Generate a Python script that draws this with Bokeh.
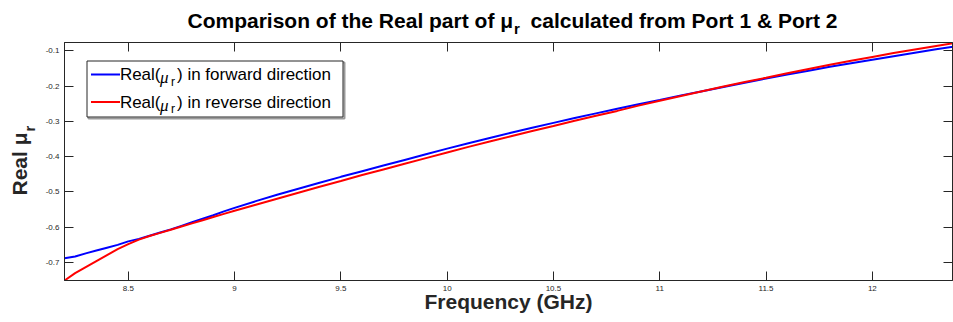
import math
from bokeh.plotting import figure
from bokeh.models import Range1d, LinearAxis, FixedTicker, Label, BoxAnnotation, PolyAnnotation
from bokeh.embed import file_html
from bokeh.resources import INLINE

# ---------------- data ----------------
freq = [8.20, 8.25, 8.30, 8.35, 8.40, 8.45, 8.50, 8.55, 8.60, 8.65, 8.70, 8.75,
        8.80, 8.85, 8.90, 8.95, 9.00, 9.10, 9.20, 9.30, 9.40, 9.50, 9.60, 9.70,
        9.80, 9.90, 10.00, 10.10, 10.20, 10.30, 10.40, 10.50, 10.60, 10.70, 10.80,
        10.90, 11.00, 11.10, 11.20, 11.30, 11.40, 11.50, 11.60, 11.70, 11.80, 11.90,
        12.00, 12.10, 12.20, 12.30, 12.40]

real_mu_forward = [-0.688, -0.683, -0.674, -0.666, -0.658, -0.650, -0.640, -0.633,
                   -0.624, -0.615, -0.606, -0.596, -0.586, -0.576, -0.566, -0.555,
                   -0.545, -0.526, -0.508, -0.491, -0.474, -0.457, -0.441, -0.425,
                   -0.409, -0.393, -0.377, -0.362, -0.347, -0.332, -0.318, -0.304,
                   -0.290, -0.277, -0.264, -0.251, -0.239, -0.226, -0.214, -0.202,
                   -0.190, -0.178, -0.167, -0.156, -0.145, -0.135, -0.125, -0.115,
                   -0.105, -0.095, -0.086]

real_mu_reverse = [-0.751, -0.730, -0.713, -0.696, -0.679, -0.662, -0.648, -0.635,
                   -0.625, -0.616, -0.607, -0.598, -0.589, -0.580, -0.571, -0.562,
                   -0.553, -0.536, -0.519, -0.502, -0.485, -0.469, -0.452, -0.436,
                   -0.420, -0.404, -0.388, -0.372, -0.357, -0.342, -0.327, -0.313,
                   -0.298, -0.284, -0.270, -0.255, -0.241, -0.228, -0.214, -0.201,
                   -0.188, -0.176, -0.163, -0.151, -0.139, -0.128, -0.117, -0.106,
                   -0.096, -0.086, -0.076]

x_ticks = [8.5, 9.0, 9.5, 10.0, 10.5, 11.0, 11.5, 12.0]
x_tick_labels = ["8.5", "9", "9.5", "10", "10.5", "11", "11.5", "12"]
y_ticks = [-0.7, -0.6, -0.5, -0.4, -0.3, -0.2, -0.1]
y_tick_labels = ["-0.7", "-0.6", "-0.5", "-0.4", "-0.3", "-0.2", "-0.1"]

title_head = "Comparison of the Real part of μ"
title_tail = "calculated from Port 1 & Port 2"
ylabel_head = "Real μ"
xlabel = "Frequency (GHz)"
legend_tails = [") in forward direction", ") in reverse direction"]

# ---------------- layout ----------------
W, H = 953, 322
L, R, T, B = 64, 1, 42, 42
FW, FH = W - L - R, H - T - B
X0, X1 = freq[0], 12.377
Y0 = min(real_mu_forward + real_mu_reverse)
Y1 = max(real_mu_forward + real_mu_reverse)
AX = "#262626"
FONT = "Liberation Sans"
NB = "\u00a0"

# Arial/Liberation Sans Bold advance widths (per 1000 em) for placing the subscripts
BOLD_W = {" ": 278, NB: 278, "C": 722, "o": 611, "m": 889, "p": 611, "a": 556,
          "r": 389, "i": 278, "s": 556, "n": 611, "f": 333, "t": 333, "h": 611,
          "e": 556, "R": 722, "l": 278, "c": 556, "u": 611, "d": 611, "P": 667,
          "1": 556, "&": 722, "2": 556, "μ": 611}


def text_w(s, size):
    return sum(BOLD_W.get(ch, 556) for ch in s) * size / 1000.0


def sx(px):
    return X0 + (px - L) / FW * (X1 - X0)


def sy(py):
    return Y0 + (H - B - py) / FH * (Y1 - Y0)


p = figure(width=W, height=H, x_range=Range1d(X0, X1), y_range=Range1d(Y0, Y1),
           output_backend="svg", toolbar_location=None,
           min_border_left=L, min_border_right=R, min_border_top=T, min_border_bottom=B)
p.xgrid.visible = False
p.ygrid.visible = False
p.outline_line_color = AX
p.outline_line_width = 1
p.background_fill_color = "white"
p.border_fill_color = "white"

bottom_ax = p.below[0]
left_ax = p.left[0]


def style_axis(ax, ticks, labels, show_labels=True):
    ax.ticker = FixedTicker(ticks=ticks)
    ax.major_tick_in = 9
    ax.major_tick_out = 0
    ax.minor_tick_in = 0
    ax.minor_tick_out = 0
    ax.axis_line_color = AX
    ax.major_tick_line_color = AX
    ax.major_label_text_font = FONT
    ax.major_label_text_color = AX
    ax.major_label_text_font_size = "8px"
    ax.major_label_standoff = 5
    if show_labels:
        ax.major_label_overrides = {t: s for t, s in zip(ticks, labels)}
    else:
        ax.major_label_overrides = {t: "" for t in ticks}
        ax.major_label_standoff = 0


style_axis(bottom_ax, x_ticks, x_tick_labels)
style_axis(left_ax, y_ticks, y_tick_labels)
top_ax = LinearAxis()
style_axis(top_ax, x_ticks, x_tick_labels, show_labels=False)
p.add_layout(top_ax, "above")
right_ax = LinearAxis()
style_axis(right_ax, y_ticks, y_tick_labels, show_labels=False)
p.add_layout(right_ax, "right")

# x axis title
bottom_ax.axis_label = xlabel
bottom_ax.axis_label_text_font = FONT
bottom_ax.axis_label_text_font_style = "bold"
bottom_ax.axis_label_text_font_size = "21px"
bottom_ax.axis_label_text_color = AX
bottom_ax.axis_label_standoff = -4

p.line(freq, real_mu_forward, line_color="#0000ff", line_width=2)
p.line(freq, real_mu_reverse, line_color="#ff0000", line_width=2)


def lab(px, py, text, size, style="normal", align="left", angle=0.0,
        font=FONT, color="black"):
    return Label(x=sx(px), y=sy(py), text=text, text_font=font,
                 text_font_size=f"{size}px", text_font_style=style,
                 text_align=align, text_baseline="alphabetic", angle=angle,
                 text_color=color)


# title: one label + the subscript, both in the top side panel
TS = 21
gap = NB * 3
full_title = title_head + gap + title_tail
t_left = 512 - text_w(full_title, TS) / 2
TB = 20
p.add_layout(lab(t_left, TB, full_title, TS, "bold", "left"), "above")
p.add_layout(lab(t_left + text_w(title_head, TS) + 1, TB + 8, "r", 15, "bold"), "above")

# y label (rotated) in the left side panel
ang = math.pi / 2
YS = 21
YB = 19
p.add_layout(lab(YB, 195, ylabel_head, YS, "bold", "left", ang, color=AX), "left")
p.add_layout(lab(YB + 10, 195 - text_w(ylabel_head, YS) - 1, "r", 15, "bold", "left", ang, color=AX), "left")

# legend
p.add_layout(BoxAnnotation(left=sx(88), right=sx(344), top=sy(62), bottom=sy(118),
                           fill_color="white", fill_alpha=1.0,
                           line_color="#9a9a9a", line_alpha=1.0, line_width=2))
p.add_layout(BoxAnnotation(left=sx(86.5), right=sx(342.5), top=sy(60.5), bottom=sy(116.5),
                           fill_color="white", fill_alpha=1.0,
                           line_color=AX, line_alpha=1.0, line_width=1))
p.add_layout(PolyAnnotation(xs=[sx(90.5), sx(119.5)], ys=[sy(74), sy(74)],
                            line_color="#0000ff", line_alpha=1.0, line_width=2, fill_alpha=0))
p.add_layout(PolyAnnotation(xs=[sx(90.5), sx(119.5)], ys=[sy(101.5), sy(101.5)],
                            line_color="#ff0000", line_alpha=1.0, line_width=2, fill_alpha=0))
for base, rest in zip([74, 101.5], legend_tails):
    p.add_layout(lab(160, base, "Real(", 17, "normal", "right"))
    p.add_layout(lab(159.5, base + 3, "μ", 17, "italic", font="Liberation Serif"))
    p.add_layout(lab(170.5, base + 7, "r", 12, "normal"))
    p.add_layout(lab(176.5, base, rest, 17, "normal"))

open("out.html", "w").write(file_html(p, INLINE))
